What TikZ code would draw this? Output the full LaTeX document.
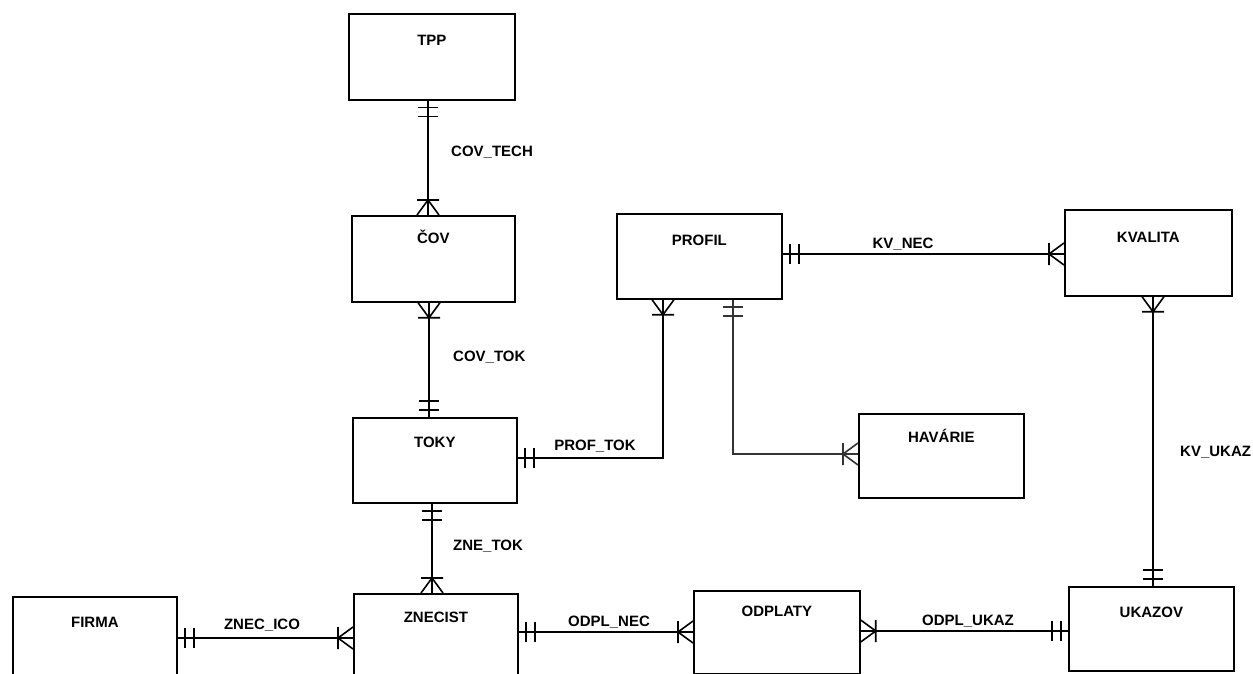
\documentclass[tikz,border=0pt]{standalone}
\usepackage{fontspec}
\setmainfont{Liberation Sans}
\usetikzlibrary{decorations.markings}
\newcommand{\erfont}{\bfseries\fontsize{15}{18}\selectfont}
\tikzset{
  ent/.style={draw, line width=1.7pt, inner sep=0pt, anchor=north west, font=\erfont},
  lbl/.style={font=\erfont, inner sep=0pt},
  conn/.style={line width=1.6pt},
  conn2/.style={line width=1.2pt, black!80},
  tick/.style={line width=1.6pt},
  one at start/.style={postaction={decorate, decoration={markings,
    mark=at position 7pt with {\draw[tick] (0,-10pt) -- (0,10pt);},
    mark=at position 16pt with {\draw[tick] (0,-10pt) -- (0,10pt);}}}},
  one at end/.style={postaction={decorate, decoration={markings,
    mark=at position -7pt with {\draw[tick] (0,-10pt) -- (0,10pt);},
    mark=at position -16pt with {\draw[tick] (0,-10pt) -- (0,10pt);}}}},
  many at start/.style={postaction={decorate, decoration={markings,
    mark=at position 15pt with {\draw[tick] (0,-11pt) -- (0,11pt) (0,0) -- (-15pt,11pt) (0,0) -- (-15pt,-11pt);}}}},
  many at end/.style={postaction={decorate, decoration={markings,
    mark=at position -15pt with {\draw[tick] (0,-11pt) -- (0,11pt) (0,0) -- (15pt,11pt) (0,0) -- (15pt,-11pt);}}}},
}
\begin{document}
\begin{tikzpicture}[x=1pt, y=-1pt]
\useasboundingbox (0,0) rectangle (1253,674);
\clip (0,0) rectangle (1253,674);
\fill[white] (0,0) rectangle (1253,674);

% entities
\node[ent, minimum width=166pt, text height=32pt, text depth=54pt] (tpp) at (348,13) {TPP};
\node[ent, minimum width=163pt, text height=28pt, text depth=58pt] (cov) at (351,215) {ČOV};
\node[ent, minimum width=164pt, text height=30pt, text depth=55pt] (toky) at (352,417) {TOKY};
\node[ent, minimum width=164pt, text height=29pt, text depth=58pt] (znec) at (353,593) {ZNECIST};
\node[ent, minimum width=164pt, text height=31pt, text depth=54pt] (firma) at (12,596) {FIRMA};
\node[ent, minimum width=166pt, text height=26pt, text depth=57pt] (odpl) at (693,590) {ODPLATY};
\node[ent, minimum width=165pt, text height=31pt, text depth=53pt] (ukaz) at (1068,586) {UKAZOV};
\node[ent, minimum width=165pt, text height=32pt, text depth=53pt] (profil) at (616,213) {PROFIL};
\node[ent, minimum width=167pt, text height=33pt, text depth=53pt] (kval) at (1064,209) {KVALITA};
\node[ent, minimum width=165pt, text height=29pt, text depth=55pt] (hav) at (858,413) {HAVÁRIE};

% routing coordinates
\coordinate (v1) at (428,0);
\coordinate (v2) at (429,0);
\coordinate (v3) at (432,0);
\coordinate (v4) at (1153,0);
\coordinate (h1) at (0,254);
\coordinate (h2) at (0,638);
\coordinate (h3) at (0,632);
\coordinate (h4) at (0,631);
\coordinate (bend1) at (663,458);
\coordinate (bend2) at (733,454);

% connectors
\draw[conn, one at start, many at end] (tpp.south -| v1) -- (cov.north -| v1);
\draw[conn, many at start, one at end] (cov.south -| v2) -- (toky.north -| v2);
\draw[conn, one at start, many at end] (toky.south -| v3) -- (znec.north -| v3);
\draw[conn, one at start, many at end] (bend1 -| toky.east) -- (bend1) -- (bend1 |- profil.south);
\draw[conn2, one at start, many at end] (bend2 |- profil.south) -- (bend2) -- (bend2 -| hav.west);
\draw[conn, one at start, many at end] (h1 -| profil.east) -- (h1 -| kval.west);
\draw[conn, many at start, one at end] (v4 |- kval.south) -- (v4 |- ukaz.north);
\draw[conn, one at start, many at end] (h2 -| firma.east) -- (h2 -| znec.west);
\draw[conn, one at start, many at end] (h3 -| znec.east) -- (h3 -| odpl.west);
\draw[conn, many at start, one at end] (h4 -| odpl.east) -- (h4 -| ukaz.west);

% relationship labels
\node[lbl, anchor=west] (lcovtech) at (451,152) {COV\_TECH};
\node[lbl, anchor=west] (lcovtok) at (453,357) {COV\_TOK};
\node[lbl] (lproftok) at (595,446) {PROF\_TOK};
\node[lbl, anchor=west] (lznetok) at (453,546) {ZNE\_TOK};
\node[lbl] (lkvnec) at (903,244) {KV\_NEC};
\node[lbl, anchor=west] (lkvukaz) at (1180,452) {KV\_UKAZ};
\node[lbl] (lznecico) at (262,625) {ZNEC\_ICO};
\node[lbl] (lodplnec) at (609,622) {ODPL\_NEC};
\node[lbl] (lodplukaz) at (968,621) {ODPL\_UKAZ};
\end{tikzpicture}
\end{document}
